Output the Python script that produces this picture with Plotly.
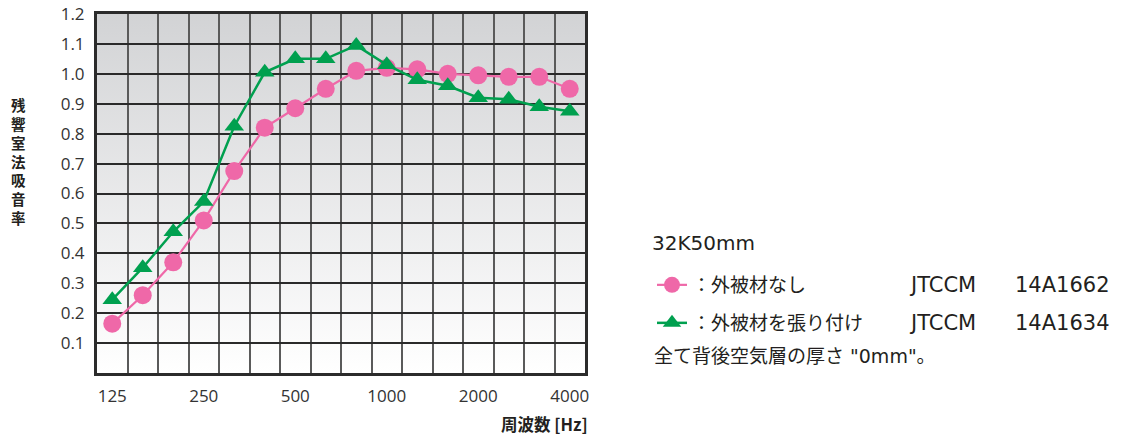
import base64
import plotly.graph_objects as go

# ---- data ----
freqs = ["125", "160", "200", "250", "315", "400", "500", "630",
         "800", "1000", "1250", "1600", "2000", "2500", "3150", "4000"]
no_cover = [0.165, 0.26, 0.37, 0.51, 0.675, 0.82, 0.885, 0.95,
            1.01, 1.02, 1.015, 1.0, 0.995, 0.99, 0.99, 0.95]
with_cover = [0.245, 0.352, 0.472, 0.573, 0.825, 1.005, 1.05, 1.05,
              1.095, 1.03, 0.98, 0.96, 0.92, 0.915, 0.89, 0.875]
x_tick_labels = ["125", "250", "500", "1000", "2000", "4000"]
y_tick_vals = [0.1, 0.2, 0.3, 0.4, 0.5, 0.6, 0.7, 0.8, 0.9, 1.0, 1.1, 1.2]
series_names = ["：外被材なし", "：外被材を張り付け"]
series_codes = [("JTCCM", "14A1662"), ("JTCCM", "14A1634")]

PINK = "#ef68a8"
GREEN = "#00a04f"
TXT = "#231f20"
CJK = "Noto Sans CJK JP"
NUM = "Open Sans"

x_idx = list(range(len(freqs)))

fig = go.Figure()
fig.add_trace(go.Scatter(
    x=x_idx, y=no_cover, customdata=freqs, name=series_names[0],
    mode="lines+markers", line=dict(color=PINK, width=2.2),
    marker=dict(symbol="circle", size=18, color=PINK), legend="legend"))
fig.add_trace(go.Scatter(
    x=x_idx, y=with_cover, customdata=freqs, name=series_names[1],
    mode="lines+markers", line=dict(color=GREEN, width=2.5),
    marker=dict(symbol="triangle-up", size=17, color=GREEN), legend="legend2"))

# gradient background for plot area
svg = ('<svg xmlns="http://www.w3.org/2000/svg" width="100" height="100" preserveAspectRatio="none">'
       '<defs><linearGradient id="g" x1="0" y1="0" x2="0" y2="1">'
       '<stop offset="0" stop-color="#d2d3d5"/><stop offset="1" stop-color="#ffffff"/>'
       '</linearGradient></defs><rect width="100" height="100" fill="url(#g)"/></svg>')
src = "data:image/svg+xml;base64," + base64.b64encode(svg.encode()).decode()

L, R, T, B = 97, 543, 14, 63
W, H = 1128, 436
pw, ph = W - L - R, H - T - B


def px(xp):
    return (xp - L) / pw


def py(yp):
    return (H - B - yp) / ph


fig.update_layout(
    width=W, height=H,
    margin=dict(l=L, r=R, t=T, b=B, autoexpand=False),
    paper_bgcolor="white", plot_bgcolor="rgba(0,0,0,0)",
    images=[dict(source=src, xref="paper", yref="paper", x=0, y=1,
                 sizex=1, sizey=1, sizing="stretch", layer="below",
                 xanchor="left", yanchor="top")],
    showlegend=True,
    legend=dict(xref="container", yref="container", x=652 / W, y=1 - 285 / H,
                xanchor="left", yanchor="middle",
                bgcolor="rgba(0,0,0,0)", font=dict(family=CJK, size=19, color=TXT)),
    legend2=dict(xref="container", yref="container", x=652 / W, y=1 - 323 / H,
                 xanchor="left", yanchor="middle",
                 bgcolor="rgba(0,0,0,0)", font=dict(family=CJK, size=19, color=TXT)),
    xaxis=dict(
        range=[-0.5, len(freqs) - 0.5], automargin=False,
        tickmode="array",
        tickvals=[freqs.index(t) for t in x_tick_labels],
        ticktext=x_tick_labels,
        showgrid=False, zeroline=False,
        ticks="", ticklabelstandoff=6,
        tickfont=dict(family=NUM, size=17, color="#333333"),
        showline=True, linecolor="#2b2b2b", linewidth=3, mirror=True,
        minor=dict(tickmode="linear", tick0=0.5, dtick=1, showgrid=True,
                   gridcolor="#5a5a5a", gridwidth=2, ticks=""),
    ),
    yaxis=dict(
        range=[0, 1.2], automargin=False,
        tickmode="array",
        tickvals=y_tick_vals,
        ticktext=[f"{v:.1f}" for v in y_tick_vals],
        showgrid=True, gridcolor="#2a2a2a", gridwidth=2,
        zeroline=False, ticks="", ticklabelstandoff=6,
        tickfont=dict(family=NUM, size=17, color="#333333"),
        showline=True, linecolor="#2b2b2b", linewidth=3, mirror=True,
    ),
)

annotations = [
    dict(text="<br>".join("残響室法吸音率"), x=px(18), y=py(161),
         font=dict(family=CJK, size=14.5, color=TXT, weight="bold")),
    dict(text="周波数 [Hz]", x=px(590), y=py(424), xanchor="right",
         font=dict(family=CJK, size=16.5, color=TXT, weight="bold")),
    dict(text="32K50mm", x=px(650), y=py(243), xanchor="left",
         font=dict(family="DejaVu Sans", size=20, color=TXT)),
    dict(text='全て背後空気層の厚さ "0mm"。', x=px(652), y=py(356), xanchor="left",
         font=dict(family="DejaVu Sans, " + CJK, size=19, color=TXT)),
]
for (code, num), yy in zip(series_codes, [285, 323]):
    annotations.append(dict(text=code, x=px(907), y=py(yy), xanchor="left",
                            font=dict(family="DejaVu Sans", size=21, color=TXT)))
    annotations.append(dict(text=num, x=px(1013), y=py(yy), xanchor="left",
                            font=dict(family="DejaVu Sans", size=21, color=TXT)))
for a in annotations:
    a.update(xref="paper", yref="paper", showarrow=False)
    a.setdefault("xanchor", "center")
    a.setdefault("yanchor", "middle")
fig.update_layout(annotations=annotations)

fig.write_html(
    "out.html",
    config={"displayModeBar": False},
    post_script="document.body.style.margin='0';document.body.style.padding='0';"
                "document.body.style.overflow='hidden';",
)
